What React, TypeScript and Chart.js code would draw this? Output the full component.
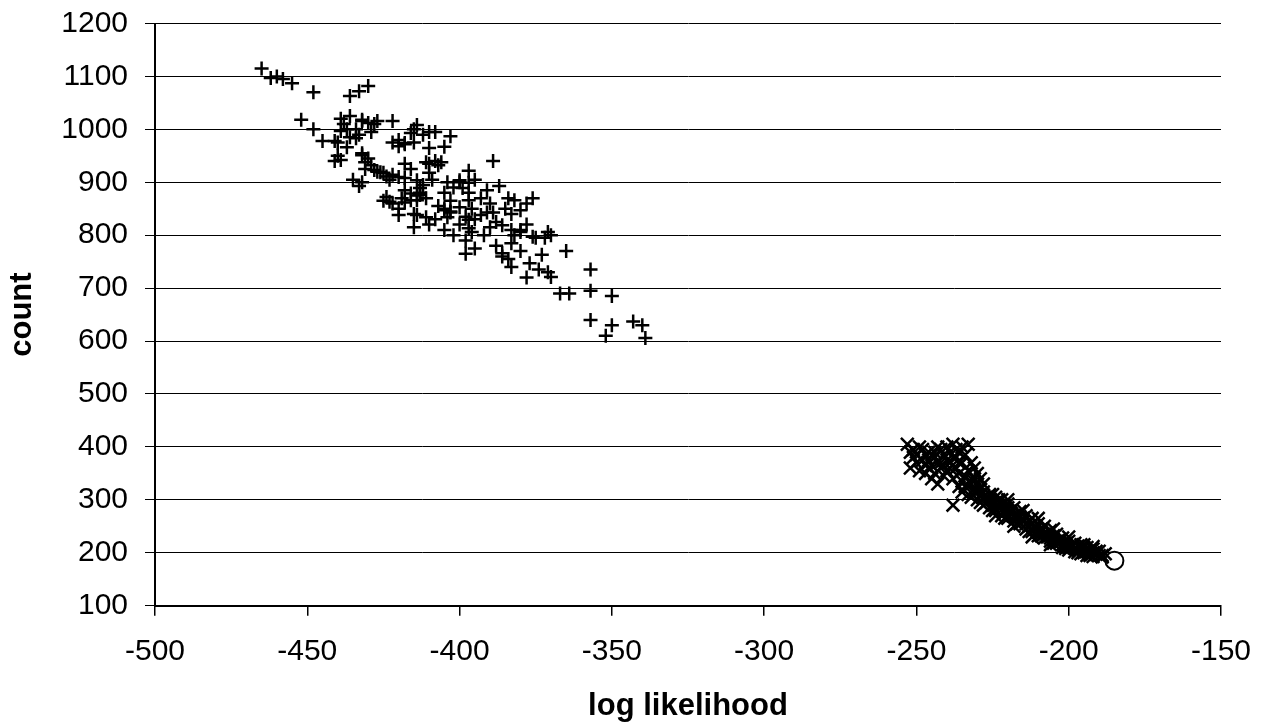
import React, { useEffect, useRef } from "react";
import { Chart, registerables } from "chart.js";

Chart.register(...registerables);

// Samples drawn with "+" markers: [log likelihood, count]
const plusSamples: [number, number][] = [
  [-465, 1115], [-462, 1097], [-460, 1100], [-458, 1095], [-455, 1087], [-448, 1070],
  [-436, 1063], [-433, 1072], [-430, 1082],
  [-452, 1018], [-448, 1000], [-445, 978], [-440, 975], [-439, 1020], [-438, 1010],
  [-437, 1000], [-436, 1025], [-434, 1000], [-432, 1018], [-430, 1012], [-428, 1010],
  [-433, 990], [-436, 985], [-440, 950], [-441, 940], [-432, 955], [-430, 945],
  [-429, 932], [-427, 920], [-425, 918], [-431, 925], [-435, 905], [-432, 900],
  [-422, 975], [-420, 968], [-418, 972], [-415, 975], [-412, 990], [-415, 1000],
  [-408, 995], [-403, 987], [-418, 935], [-416, 925], [-420, 910], [-423, 905],
  [-425, 865], [-422, 860], [-420, 838], [-418, 862], [-415, 840], [-413, 880],
  [-410, 935], [-408, 940], [-406, 938], [-410, 918], [-412, 895], [-405, 880],
  [-403, 865], [-400, 900], [-402, 890], [-397, 922], [-395, 905], [-405, 850],
  [-407, 855], [-403, 845], [-410, 820], [-415, 815], [-405, 810], [-400, 820],
  [-398, 835], [-395, 830], [-396, 850], [-393, 870], [-391, 885], [-389, 940],
  [-387, 893], [-390, 860], [-385, 850], [-383, 840], [-390, 815], [-392, 800],
  [-388, 780], [-386, 760], [-384, 755], [-383, 740], [-382, 800], [-380, 810],
  [-378, 860], [-376, 870], [-378, 820], [-375, 795], [-372, 795], [-370, 800],
  [-374, 735], [-378, 720], [-371, 730], [-367, 690], [-364, 690], [-365, 770],
  [-357, 735], [-357, 695], [-350, 685], [-357, 640], [-350, 630], [-352, 610],
  [-343, 637], [-340, 630], [-339, 606], [-395, 775], [-398, 765], [-380, 770],
  [-402, 800], [-408, 830], [-420, 850], [-398, 790], [-388, 825],
  [-418, 885], [-414, 875], [-411, 870], [-409, 905], [-404, 900],
  [-441, 978], [-439, 997], [-437, 966], [-439, 942], [-434, 983], [-432, 1016],
  [-427, 1016], [-429, 995], [-433, 893], [-422, 1016], [-416, 993], [-420, 980],
  [-418, 974], [-422, 914], [-432, 951], [-431, 938], [-428, 923], [-426, 919],
  [-424, 911], [-424, 872], [-423, 863], [-419, 870], [-416, 879], [-414, 866],
  [-413, 889], [-414, 1008], [-410, 995], [-405, 967], [-410, 965], [-411, 938],
  [-407, 932], [-400, 904], [-397, 899], [-399, 889], [-418, 908], [-414, 904],
  [-413, 876], [-416, 866], [-414, 838], [-411, 834], [-405, 847], [-404, 834],
  [-403, 843], [-400, 853], [-397, 866], [-397, 829], [-393, 838], [-391, 843],
  [-389, 843], [-397, 813], [-396, 806], [-386, 819], [-383, 810], [-382, 866],
  [-380, 847], [-383, 785], [-380, 806], [-397, 880], [-384, 870], [-376, 797],
  [-371, 806], [-386, 766], [-377, 747], [-373, 763], [-370, 721],
];

// Samples drawn with "x" markers: [log likelihood, count]
const crossSamples: [number, number][] = [
  [-253, 405], [-252, 390], [-251, 380], [-250, 370], [-252, 360], [-249, 400],
  [-248, 395], [-247, 385], [-246, 375], [-245, 365], [-244, 380], [-243, 400],
  [-242, 395], [-241, 385], [-240, 400], [-239, 370], [-238, 405], [-237, 380],
  [-236, 390], [-235, 400], [-233, 405], [-245, 340], [-243, 330], [-241, 345],
  [-240, 355], [-238, 340], [-237, 360], [-236, 350], [-235, 335], [-234, 345],
  [-233, 325], [-232, 340], [-231, 320], [-230, 330], [-229, 310], [-228, 315],
  [-227, 305], [-226, 300], [-225, 310], [-224, 295], [-223, 300], [-222, 290],
  [-221, 280], [-220, 285], [-219, 275], [-218, 270], [-217, 265], [-216, 268],
  [-215, 260], [-214, 255], [-213, 250], [-212, 255], [-211, 245], [-210, 240],
  [-209, 240], [-208, 235], [-207, 230], [-206, 228], [-205, 225], [-204, 222],
  [-203, 220], [-202, 215], [-201, 212], [-200, 210], [-199, 212], [-198, 208],
  [-197, 205], [-196, 210], [-195, 200], [-194, 203], [-193, 198], [-192, 200],
  [-191, 197], [-190, 195], [-189, 195],
  [-238, 290], [-235, 315], [-232, 305], [-230, 300], [-228, 290], [-226, 285],
  [-224, 280], [-222, 270], [-220, 265], [-218, 260], [-216, 255], [-214, 245],
  [-212, 240], [-210, 232], [-208, 228], [-206, 222], [-204, 218], [-202, 210],
  [-200, 205], [-198, 202], [-196, 198], [-194, 195], [-192, 193], [-234, 325],
  [-231, 315], [-229, 320], [-227, 295], [-225, 290], [-223, 285], [-221, 275],
  [-219, 280], [-217, 270], [-215, 265], [-213, 260], [-211, 250], [-209, 245],
  [-207, 237], [-205, 232], [-203, 225], [-201, 218], [-199, 215], [-197, 213],
  [-195, 210], [-193, 205], [-191, 203],
  [-250, 385], [-248, 375], [-246, 360], [-244, 350], [-242, 370], [-240, 375],
  [-239, 390], [-237, 395], [-234, 385], [-232, 370], [-231, 360], [-230, 350],
  [-229, 340], [-228, 330], [-247, 350], [-242, 360], [-236, 370], [-244, 390],
  [-232, 330], [-230, 315], [-228, 305], [-226, 310], [-224, 305], [-222, 300],
  [-220, 292], [-218, 285], [-216, 278], [-214, 270], [-212, 265], [-210, 255],
  [-208, 250], [-206, 242], [-204, 235], [-202, 228], [-200, 222], [-198, 218],
  [-196, 215], [-194, 210], [-192, 207], [-190, 203], [-188, 198], [-225, 280],
  [-221, 265], [-217, 255], [-213, 240], [-209, 232], [-205, 218], [-201, 208],
  [-197, 200], [-193, 195], [-189, 192], [-239, 360], [-243, 370], [-246, 390],
  [-251, 395], [-249, 355], [-247, 365], [-241, 365], [-238, 380], [-235, 370],
  [-233, 355], [-231, 340], [-230, 318], [-236, 325], [-233, 310],
  [-220, 300], [-215, 280], [-210, 265], [-205, 245], [-200, 230], [-212, 230],
  [-206, 215], [-218, 250], [-224, 270], [-195, 215], [-192, 212], [-229, 295],
];

// Single highlighted point (open circle)
const bestSample: [number, number][] = [[-185, 185]];

const xAxisLabel = "log likelihood";
const yAxisLabel = "count";
const xMin = -500, xMax = -150, xStep = 50;
const yMin = 100, yMax = 1200, yStep = 100;

const FONT = "'Liberation Sans', Arial, sans-serif";

export default function App() {
  const ref = useRef<HTMLCanvasElement | null>(null);
  useEffect(() => {
    if (!ref.current) return;
    const toPts = (a: [number, number][]) => a.map(([x, y]) => ({ x, y }));
    const chart = new Chart(ref.current, {
      type: "scatter",
      data: {
        datasets: [
          {
            label: "plus",
            data: toPts(plusSamples),
            pointStyle: "cross",
            pointRadius: 7,
            borderColor: "#000",
            backgroundColor: "#000",
            borderWidth: 2.5,
          },
          {
            label: "cross",
            data: toPts(crossSamples),
            pointStyle: "crossRot",
            pointRadius: 9,
            borderColor: "#000",
            backgroundColor: "#000",
            borderWidth: 2.5,
          },
          {
            label: "best",
            data: toPts(bestSample),
            pointStyle: "circle",
            pointRadius: 9,
            borderColor: "#000",
            backgroundColor: "#fff",
            borderWidth: 2,
          },
        ],
      },
      options: {
        animation: false,
        responsive: false,
        events: [],
        layout: { padding: { top: 23.5, right: 44, left: 0, bottom: 0 } },
        plugins: { legend: { display: false }, tooltip: { enabled: false } },
        scales: {
          x: {
            type: "linear",
            min: xMin,
            max: xMax,
            afterFit: (s: any) => { s.height = 119.3; s.paddingLeft = 0; s.paddingRight = 0; },
            ticks: {
              stepSize: xStep,
              color: "#000",
              font: { family: FONT, size: 30 },
              padding: 18,
              maxRotation: 0,
              callback: (v: any) => String(v),
            },
            grid: { drawOnChartArea: false, drawTicks: true, tickLength: 10, color: "#000", lineWidth: 1.5 },
            border: { color: "#000", width: 2 },
            title: {
              display: true,
              text: xAxisLabel,
              color: "#000",
              font: { family: FONT, size: 31, weight: "bold" },
              padding: { top: 0, bottom: 0 },
            },
          },
          y: {
            type: "linear",
            min: yMin,
            max: yMax,
            afterFit: (s: any) => { s.width = 155; s.paddingTop = 0; s.paddingBottom = 0; },
            ticks: {
              stepSize: yStep,
              color: "#000",
              font: { family: FONT, size: 30 },
              padding: 17,
              callback: (v: any) => String(v),
            },
            grid: { color: "#000", lineWidth: 1, tickLength: 10, drawTicks: true },
            border: { color: "#000", width: 2 },
            title: {
              display: true,
              text: yAxisLabel,
              color: "#000",
              font: { family: FONT, size: 31, weight: "bold" },
              padding: { top: 4, bottom: 0 },
            },
          },
        },
      },
    });
    return () => chart.destroy();
  }, []);
  return (
    <div style={{ position: "absolute", left: 0, top: 0, width: 1265, height: 725, background: "#fff" }}>
      <canvas ref={ref} width={1265} height={725} />
    </div>
  );
}
